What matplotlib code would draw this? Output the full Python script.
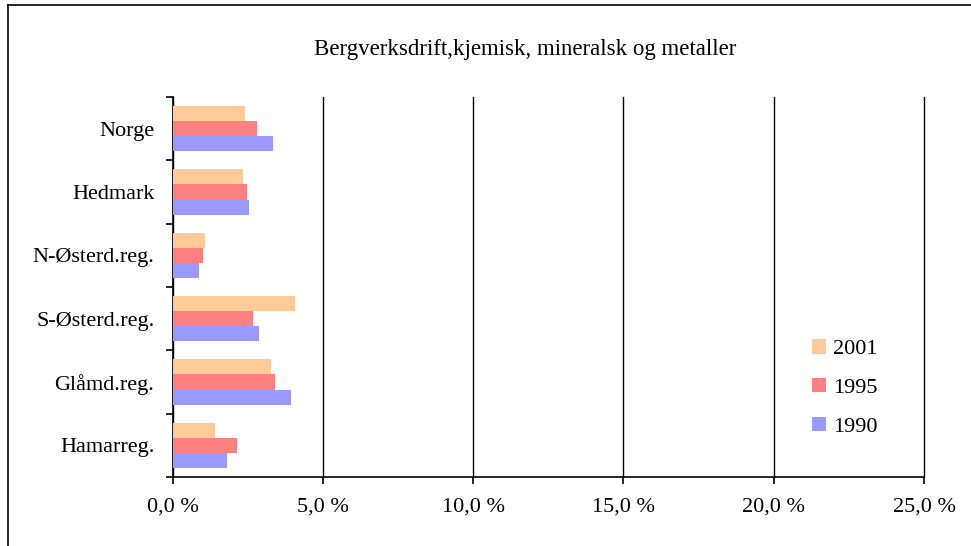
import numpy as np
import matplotlib.pyplot as plt
from matplotlib.lines import Line2D
from matplotlib.ticker import FixedLocator, FuncFormatter

plt.rcParams['font.family'] = ['Liberation Serif', 'DejaVu Serif']

regions = ["Norge", "Hedmark", "N-Østerd.reg.", "S-Østerd.reg.", "Glåmd.reg.", "Hamarreg."]
years = ["2001", "1995", "1990"]
v2001 = [2.41, 2.35, 1.07, 4.08, 3.28, 1.41]
v1995 = [2.81, 2.48, 1.01, 2.68, 3.41, 2.15]
v1990 = [3.34, 2.54, 0.88, 2.88, 3.94, 1.81]
colors = ["#FFCC99", "#FF8080", "#9999FF"]
title = "Bergverksdrift,kjemisk, mineralsk og metaller"

fig = plt.figure(figsize=(9.71, 5.46), dpi=100)
ax = fig.add_axes([172.5/971, 1-477/546, (924-172.5)/971, (477-97)/546])

n = len(regions)
y = np.arange(n)
h = 0.237
series = [v2001, v1995, v1990]
for i, (vals, c, lab) in enumerate(zip(series, colors, years)):
    ax.barh(y + (i-1)*h, vals, height=h, color=c, edgecolor='none', label=lab, zorder=3)

ax.set_ylim(n-0.5, -0.5)
ax.set_xlim(0, 25)
ax.set_yticks(y)
ax.set_yticklabels(regions, fontsize=16)
ax.yaxis.set_minor_locator(FixedLocator(np.arange(-0.5, n, 1)))
ax.tick_params(axis='y', which='major', length=0, pad=13)
ax.tick_params(axis='y', which='minor', length=5, width=1.2, direction='out')
ax.set_xticks(np.arange(0, 26, 5))
ax.xaxis.set_major_formatter(FuncFormatter(lambda v, p: f"{v:.1f} %".replace('.', ',')))
ax.tick_params(axis='x', labelsize=16, length=5, width=1.2, pad=10)
ax.grid(axis='x', color='black', linewidth=1, zorder=1)
for gl in ax.get_xgridlines():
    gl.set_clip_on(False)
for s in ['top', 'right']:
    ax.spines[s].set_visible(False)
for s in ['left', 'bottom']:
    ax.spines[s].set_linewidth(1.2)

fig.text(525/971, 1-50/546, title, ha='center', va='center', fontsize=16.5)

leg = ax.legend(loc='upper left', bbox_to_anchor=(792/971, 1-319/546), bbox_transform=fig.transFigure,
                frameon=False, fontsize=16, handlelength=0.63, handleheight=0.63,
                labelspacing=0.84, handletextpad=0.3)

# outer chart frame
fig.add_artist(Line2D([8/971, 8/971], [0, 1-5/546], color='black', linewidth=1.2, transform=fig.transFigure))
fig.add_artist(Line2D([8/971, 1], [1-5/546, 1-5/546], color='black', linewidth=1.2, transform=fig.transFigure))

fig.savefig("out.png", dpi=100)
